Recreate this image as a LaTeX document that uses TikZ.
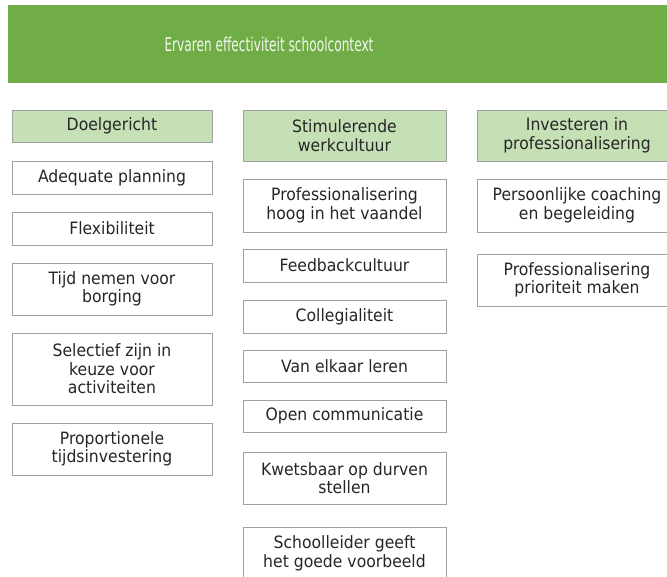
\documentclass[tikz,border=0pt]{standalone}
\usepackage{fontspec}
\setmainfont{DejaVu Sans}
\newfontfamily\boxfont[FakeStretch=0.92]{DejaVu Sans}
\newfontfamily\titlefont[FakeStretch=0.64]{DejaVu Sans}
\definecolor{topgreen}{HTML}{70AD47}
\definecolor{headgreen}{HTML}{C5E0B4}
\definecolor{bordergray}{HTML}{A0A0A0}
\definecolor{textcol}{HTML}{262626}
\definecolor{titletext}{HTML}{F2F7EE}
\tikzset{
  x=1pt, y=-1pt,
  itembox/.style={draw=bordergray, line width=1pt, fill=white, align=center,
    inner sep=0pt, text=textcol, minimum width=200pt,
    font=\boxfont\fontsize{17pt}{18.5pt}\selectfont},
  headbox/.style={itembox, fill=headgreen, draw=bordergray},
  titlebar/.style={fill=topgreen, draw=none, inner sep=0pt, text=titletext,
    font=\titlefont\fontsize{19pt}{22pt}\selectfont}
}
\begin{document}
\begin{tikzpicture}
\useasboundingbox (0,0) rectangle (667,576);
\clip (0,0) rectangle (667,576);
\fill[white] (0,0) rectangle (667,576);
% title bar
\node[titlebar, minimum width=680pt, minimum height=78pt, anchor=north west] (title) at (8,5) {};
\node[titlebar, fill=none] (titletxt) at (269,44) {Ervaren effectiviteit schoolcontext};
% column 1
\node[headbox, minimum height=32pt] (h1) at (112,126) {Doelgericht};
\node[itembox, minimum height=33pt] (a1) at (112,177.5) {Adequate planning};
\node[itembox, minimum height=33pt] (a2) at (112,228.5) {Flexibiliteit};
\node[itembox, minimum height=52pt] (a3) at (112,289) {Tijd nemen voor\\borging};
\node[itembox, minimum height=72pt] (a4) at (112,369) {Selectief zijn in\\keuze voor\\activiteiten};
\node[itembox, minimum height=52pt] (a5) at (112,449) {Proportionele\\tijdsinvestering};
% column 2
\node[headbox, minimum width=203pt, minimum height=51pt] (h2) at (344.5,135.5) {Stimulerende\\werkcultuur};
\node[itembox, minimum width=203pt, minimum height=53pt] (b1) at (344.5,205.5) {Professionalisering\\hoog in het vaandel};
\node[itembox, minimum width=203pt, minimum height=33pt] (b2) at (344.5,265.5) {Feedbackcultuur};
\node[itembox, minimum width=203pt, minimum height=33pt] (b3) at (344.5,316.5) {Collegialiteit};
\node[itembox, minimum width=203pt, minimum height=32pt] (b4) at (344.5,366) {Van elkaar leren};
\node[itembox, minimum width=203pt, minimum height=32pt] (b5) at (344.5,416) {Open communicatie};
\node[itembox, minimum width=203pt, minimum height=52pt] (b6) at (344.5,478) {Kwetsbaar op durven\\stellen};
\node[itembox, minimum width=203pt, minimum height=53pt] (b7) at (344.5,553.5) {Schoolleider geeft\\het goede voorbeeld};
% column 3
\node[headbox, minimum height=51pt] (h3) at (577,135.5) {Investeren in\\professionalisering};
\node[itembox, minimum height=53pt] (c1) at (577,205.5) {Persoonlijke coaching\\en begeleiding};
\node[itembox, minimum height=52pt] (c2) at (577,280) {Professionalisering\\prioriteit maken};
\end{tikzpicture}
\end{document}
